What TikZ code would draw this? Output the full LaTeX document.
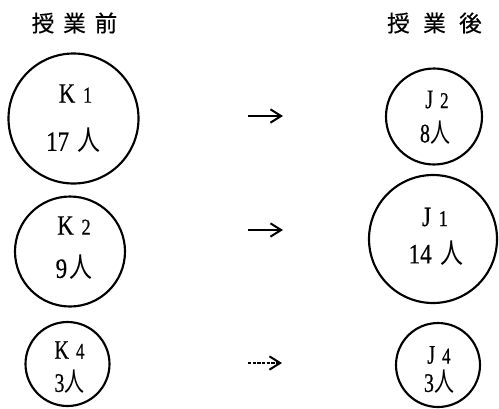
\documentclass[tikz,border=0pt]{standalone}
\usepackage{fontspec}
\usepackage{graphicx}
\setmainfont{Liberation Serif}[FakeBold=0.6]
\newfontfamily\jpfont{Noto Sans CJK JP}
\newfontfamily\jpttl{Noto Sans CJK JP}[FakeBold=0.5]
\usetikzlibrary{arrows.meta,calc}
\newcommand\subn[2]{#1\hspace{7pt}{\fontsize{17}{17}\selectfont #2}}
\newcommand\ppl[2]{#1\hspace{#2}{\jpfont 人}}
\begin{document}
\begin{tikzpicture}[x=0.75pt,y=-0.75pt,
  ring/.style={circle,draw,line width=1.6pt,inner sep=0pt,minimum size=#1*1.5pt},
  lbl/.style={inner sep=0pt,anchor=center,font=\fontsize{21}{21}\selectfont,xscale=0.82},
  slbl/.style={inner sep=0pt,anchor=center,font=\fontsize{20}{20}\selectfont,xscale=0.75},
  ttl/.style={inner sep=0pt,font=\jpttl\fontsize{17}{17}\selectfont},
  arr/.style={line width=1.2pt,-{Straight Barb[length=8pt,width=10pt,line width=1.5pt]}}]
\useasboundingbox (0,0) rectangle (499,408);

% titles
\node[ttl] (tb) at (74.5,23) {授\hspace{6.6pt}業\hspace{6.6pt}前};
\node[ttl] (ta) at (434.5,23) {授\hspace{10pt}業\hspace{10pt}後};

% circles
\node[ring=65] (K1) at (73.5,118.5) {};
\node[ring=55] (K2) at (70,251.5) {};
\node[ring=42] (K4) at (67.5,364) {};
\node[ring=48] (J2) at (434,116.5) {};
\node[ring=64] (J1) at (433,239) {};
\node[ring=42] (J4) at (438,365) {};

% labels
\node[lbl] (K1a) at ($(K1)+(2,-25)$) {\subn{K}{1}};
\node[lbl] (K1b) at ($(K1)+(0,22)$) {\ppl{17}{8pt}};
\node[lbl] (K2a) at ($(K2)+(4,-26)$) {\subn{K}{2}};
\node[lbl] (K2b) at ($(K2)+(4,16)$) {\ppl{9}{2pt}};
\node[slbl] (K4a) at ($(K4)+(2,-14)$) {\subn{K}{4}};
\node[slbl] (K4b) at ($(K4)+(2,18)$) {\ppl{3}{0pt}};
\node[slbl] (J2a) at ($(J2)+(3,-17)$) {\subn{J}{2}};
\node[slbl] (J2b) at ($(J2)+(1,16)$) {\ppl{8}{0pt}};
\node[lbl] (J1a) at ($(J1)+(2,-22)$) {\subn{J}{1}};
\node[lbl] (J1b) at ($(J1)+(3,14)$) {\ppl{14}{8pt}};
\node[slbl] (J4a) at ($(J4)+(1,-10)$) {\subn{J}{4}};
\node[slbl] (J4b) at ($(J4)+(1,17)$) {\ppl{3}{0pt}};

% arrows
\coordinate (a1s) at (248,116);
\coordinate (a1e) at (283,116);
\coordinate (a2s) at (248,230);
\coordinate (a2e) at (283,230);
\coordinate (a3s) at (248,363);
\coordinate (a3e) at (282,363);
\draw[arr] (a1s) -- (a1e);
\draw[arr] (a2s) -- (a2e);
\draw[arr,dash pattern=on 2.5pt off 1pt] (a3s) -- (a3e);
\end{tikzpicture}
\end{document}
